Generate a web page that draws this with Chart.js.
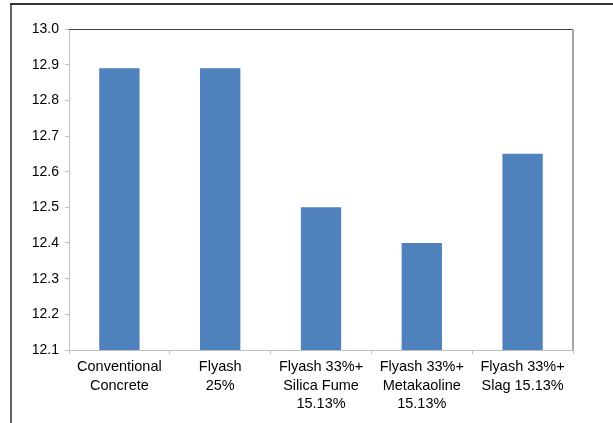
<!DOCTYPE html>
<html>
<head>
<meta charset="utf-8">
<script src="https://cdn.jsdelivr.net/npm/chart.js@4.4.1/dist/chart.umd.min.js"></script>
<style>
  html, body { margin: 0; padding: 0; background: #fff; }
  #wrap { width: 613px; height: 423px; position: relative; }
</style>
</head>
<body>
<div id="wrap"><canvas id="chart" width="613" height="423"></canvas></div>
<script>
// Mixes and their values
const categories = [
  ["Conventional", "Concrete"],
  ["Flyash", "25%"],
  ["Flyash 33%+", "Silica Fume", "15.13%"],
  ["Flyash 33%+", "Metakaoline", "15.13%"],
  ["Flyash 33%+", "Slag 15.13%"]
];
const values = [12.89, 12.89, 12.5, 12.4, 12.65];
const yMin = 12.1;
const yMax = 13.0;
const yStep = 0.1;

const FONT = "'Liberation Sans', Arial, sans-serif";

// Outer frame + plot area border, drawn like the original sheet
const framePlugin = {
  id: "frame",
  afterDraw(chart) {
    const ctx = chart.ctx;
    const a = chart.chartArea;
    ctx.save();
    // outer frame (top + left only)
    ctx.strokeStyle = "#333";
    ctx.lineWidth = 2;
    ctx.beginPath();
    ctx.moveTo(10, 4);
    ctx.lineTo(613, 4);
    ctx.stroke();
    ctx.lineWidth = 1.5;
    ctx.beginPath();
    ctx.moveTo(11, 4);
    ctx.lineTo(11, 423);
    ctx.stroke();
    // plot area top (dark) and right (gray)
    ctx.strokeStyle = "#404040";
    ctx.lineWidth = 1;
    ctx.beginPath();
    ctx.moveTo(a.left, a.top + 0.5);
    ctx.lineTo(a.right, a.top + 0.5);
    ctx.stroke();
    ctx.strokeStyle = "#a6a6a6";
    ctx.lineWidth = 2;
    ctx.beginPath();
    ctx.moveTo(a.right, a.top);
    ctx.lineTo(a.right, a.bottom);
    ctx.stroke();
    ctx.restore();
  }
};

new Chart(document.getElementById("chart").getContext("2d"), {
  type: "bar",
  data: {
    labels: categories,
    datasets: [{
      data: values,
      backgroundColor: "#4f81bd",
      borderWidth: 0,
      barPercentage: 0.4,
      categoryPercentage: 1.0
    }]
  },
  options: {
    responsive: false,
    animation: false,
    layout: { padding: { top: 29, right: 40, left: 0, bottom: 0 } },
    plugins: {
      legend: { display: false },
      tooltip: { enabled: false }
    },
    scales: {
      x: {
        grid: {
          drawOnChartArea: false,
          tickLength: 4,
          color: "#bfbfbf",
          offset: true
        },
        border: { color: "#bfbfbf", width: 1 },
        ticks: {
          color: "#000",
          padding: 4,
          maxRotation: 0,
          autoSkip: false,
          font: { family: FONT, size: 14.5, lineHeight: 1.28 }
        },
        afterFit: (scale) => { scale.height = 73; }
      },
      y: {
        min: yMin,
        max: yMax,
        grid: {
          drawOnChartArea: false,
          tickLength: 4,
          color: "#bfbfbf"
        },
        border: { color: "#bfbfbf", width: 1 },
        ticks: {
          stepSize: yStep,
          color: "#000",
          padding: 6,
          font: { family: FONT, size: 14 },
          callback: (v) => Number(v).toFixed(1)
        },
        afterFit: (scale) => { scale.width = 69; }
      }
    }
  },
  plugins: [framePlugin]
});
</script>
</body>
</html>
